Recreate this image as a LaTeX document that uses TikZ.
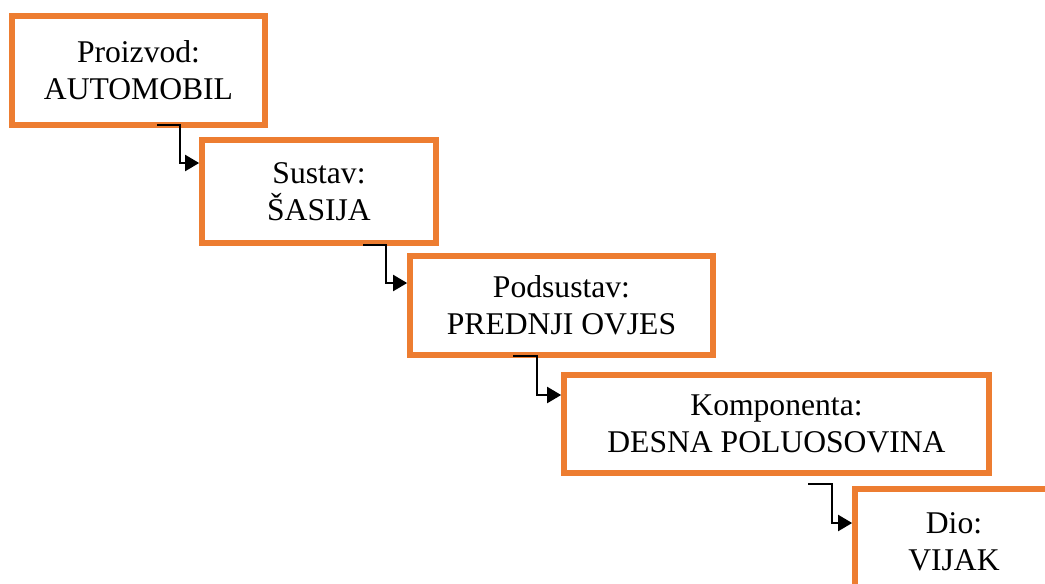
\documentclass[tikz,border=0pt]{standalone}
\usepackage{fontspec}
\setmainfont{Liberation Serif}
\usetikzlibrary{arrows.meta}
\definecolor{boxorange}{RGB}{237,125,49}

\begin{document}
\begin{tikzpicture}[
    x=0.02cm, y=-0.02cm,
    % Style for the orange hierarchy boxes
    level box/.style={rectangle, draw=boxorange, line width=3.5pt, fill=white,
        align=center, font=\fontsize{18pt}{21pt}\selectfont, inner sep=0pt},
    % Style for the black elbow arrows
    link/.style={draw=black, line width=1.5pt, -{Triangle[length=8pt, width=9pt]}}
]
    \useasboundingbox (0,0) rectangle (1045,583);
    \clip (0,0) rectangle (1045,583);

    % --- 1. Draw the Boxes ---
    \node[level box, minimum width=5.05cm, minimum height=2.17cm] (proizvod) at (138.5,70.5) {Proizvod:\\AUTOMOBIL};
    \node[level box, minimum width=4.67cm, minimum height=2.05cm] (sustav) at (319,191.5) {Sustav:\\ŠASIJA};
    \node[level box, minimum width=6.05cm, minimum height=1.97cm] (podsustav) at (561.5,305.5) {Podsustav:\\PREDNJI OVJES};
    \node[level box, minimum width=8.49cm, minimum height=1.95cm] (komponenta) at (776.5,424) {Komponenta:\\DESNA POLUOSOVINA};
    % Last box runs off the page
    \node[level box, minimum width=3.95cm, minimum height=2.11cm] (dio) at (954,542) {Dio:\\VIJAK};

    % --- 2. Define Arrow Start and Bend Points ---
    \coordinate (s1) at (157,125);
    \coordinate (k1) at (180,163);
    \coordinate (s2) at (363,245);
    \coordinate (k2) at (386,283);
    \coordinate (s3) at (513,356);
    \coordinate (k3) at (537,395);
    \coordinate (s4) at (808,484);
    \coordinate (k4) at (832,523);

    % --- 3. Draw the Arrows ---
    \draw[link] (s1) -| (k1) -- (k1 -| sustav.west);
    \draw[link] (s2) -| (k2) -- (k2 -| podsustav.west);
    \draw[link] (s3) -| (k3) -- (k3 -| komponenta.west);
    \draw[link] (s4) -| (k4) -- (k4 -| dio.west);

\end{tikzpicture}
\end{document}
